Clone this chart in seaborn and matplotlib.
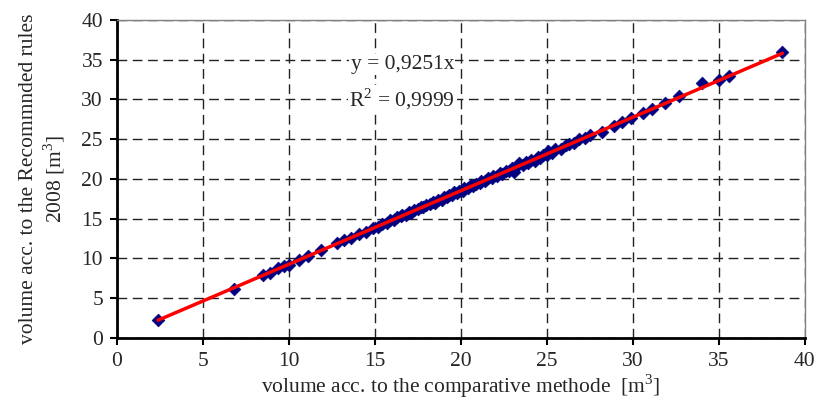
#Import Libraries

import numpy as np
import pandas as pd
import matplotlib
matplotlib.use("Agg")
import matplotlib.pyplot as plt
import seaborn as sns

#Data

vol_comparative = [2.4, 6.8, 8.5, 8.9, 9.4, 9.7, 10.0, 10.6, 11.1, 11.9, 12.8, 13.2,
                   13.6, 14.1, 14.5, 14.9, 15.2, 15.4, 15.7, 15.9, 16.1, 16.3, 16.5,
                   16.6, 16.8, 17.0, 17.1, 17.3, 17.5, 17.7, 17.8, 18.0, 18.2, 18.4,
                   18.5, 18.7, 18.9, 19.0, 19.2, 19.3, 19.5, 19.6, 19.8, 19.9, 20.1,
                   20.2, 20.4, 20.6, 20.7, 20.9, 21.1, 21.2, 21.4, 21.6, 21.8, 21.9,
                   22.1, 22.3, 22.4, 22.6, 22.8, 23.0, 23.1, 23.3, 23.4, 23.6, 23.8,
                   23.9, 24.1, 24.3, 24.5, 24.6, 24.8, 25.0, 25.1, 25.3, 25.5, 25.8,
                   26.1, 26.3, 26.6, 26.9, 27.2, 27.5, 28.2, 28.9, 29.4, 29.9, 30.6,
                   31.1, 31.9, 32.7, 34.0, 35.0, 35.6, 38.7]
vol_rules = [2.2, 6.2, 7.9, 8.2, 8.8, 9.0, 9.1, 9.8, 10.3, 11.1, 11.9, 12.3,
             12.5, 13.1, 13.3, 13.8, 14.0, 14.3, 14.4, 14.8, 14.8, 15.2, 15.3,
             15.5, 15.5, 15.8, 15.7, 16.1, 16.2, 16.5, 16.4, 16.7, 16.8, 17.1,
             17.0, 17.4, 17.4, 17.7, 17.7, 18.0, 18.0, 18.3, 18.2, 18.5, 18.5,
             18.8, 18.8, 19.2, 19.1, 19.4, 19.5, 19.7, 19.7, 20.1, 20.1, 20.4,
             20.4, 20.7, 20.6, 21.0, 21.0, 21.4, 20.9, 21.7, 22.0, 21.8, 22.1,
             22.0, 22.4, 22.3, 22.8, 22.6, 23.0, 23.0, 23.5, 23.3, 23.7, 23.8,
             24.2, 24.4, 24.5, 25.0, 25.1, 25.5, 25.9, 26.6, 27.1, 27.6, 28.3,
             28.8, 29.5, 30.4, 32.0, 32.4, 33.0, 36.0]
slope = 0.9251
r2 = 0.9999
ticks = [0, 5, 10, 15, 20, 25, 30, 35, 40]

df = pd.DataFrame({"comparative": vol_comparative, "rules": vol_rules})

#Trendline through the origin

x_line = np.array([min(vol_comparative), max(vol_comparative)])
trend = pd.DataFrame({"x": x_line, "y": slope * x_line})

#Plot

sns.set_style("white")
plt.rcParams["font.family"] = ["Liberation Serif", "DejaVu Serif"]
plt.rcParams["mathtext.fontset"] = "custom"
plt.rcParams["mathtext.rm"] = "Liberation Serif"

fs = 15.5

fig = plt.figure(figsize=(8.17, 4.15), dpi=100)
ax = fig.add_axes([0.143, 0.186, 0.842, 0.766])

sns.scatterplot(data=df, x="comparative", y="rules", marker="D", s=42,
                color="#000080", edgecolor="#000080", linewidth=0.5, ax=ax, zorder=3)
sns.lineplot(data=trend, x="x", y="y", color="#ff0000", linewidth=2.5, ax=ax, zorder=4)

ax.set_xlim(0, 40)
ax.set_ylim(0, 40)
ax.set_xticks(ticks)
ax.set_yticks(ticks)
ax.grid(True, color="#222222", linestyle=(0, (7, 4)), linewidth=1)
ax.set_axisbelow(True)

for side in ["top", "right"]:
    ax.spines[side].set_color("#808080")
    ax.spines[side].set_linewidth(1)
for side in ["left", "bottom"]:
    ax.spines[side].set_color("black")
    ax.spines[side].set_linewidth(2)

ax.tick_params(axis="both", direction="out", length=5, width=1.5, color="black",
               labelsize=fs, pad=5, left=True, bottom=True)

ax.set_xlabel("volume acc. to the comparative methode  [m$^3$]", fontsize=fs, labelpad=1)
ax.set_ylabel("volume acc. to the Recommnded rules\n2008 [m$^3$]", fontsize=fs, labelpad=10)

ax.text(16.6, 34.4, "y = 0,9251x", fontsize=fs, ha="center", va="center",
        bbox=dict(facecolor="white", edgecolor="none", pad=1), zorder=5)
ax.text(16.6, 30.0, "R$^2$ = " + str(r2).replace(".", ","), fontsize=fs, ha="center",
        va="center", bbox=dict(facecolor="white", edgecolor="none", pad=1), zorder=5)

plt.savefig("out.png", dpi=100)
